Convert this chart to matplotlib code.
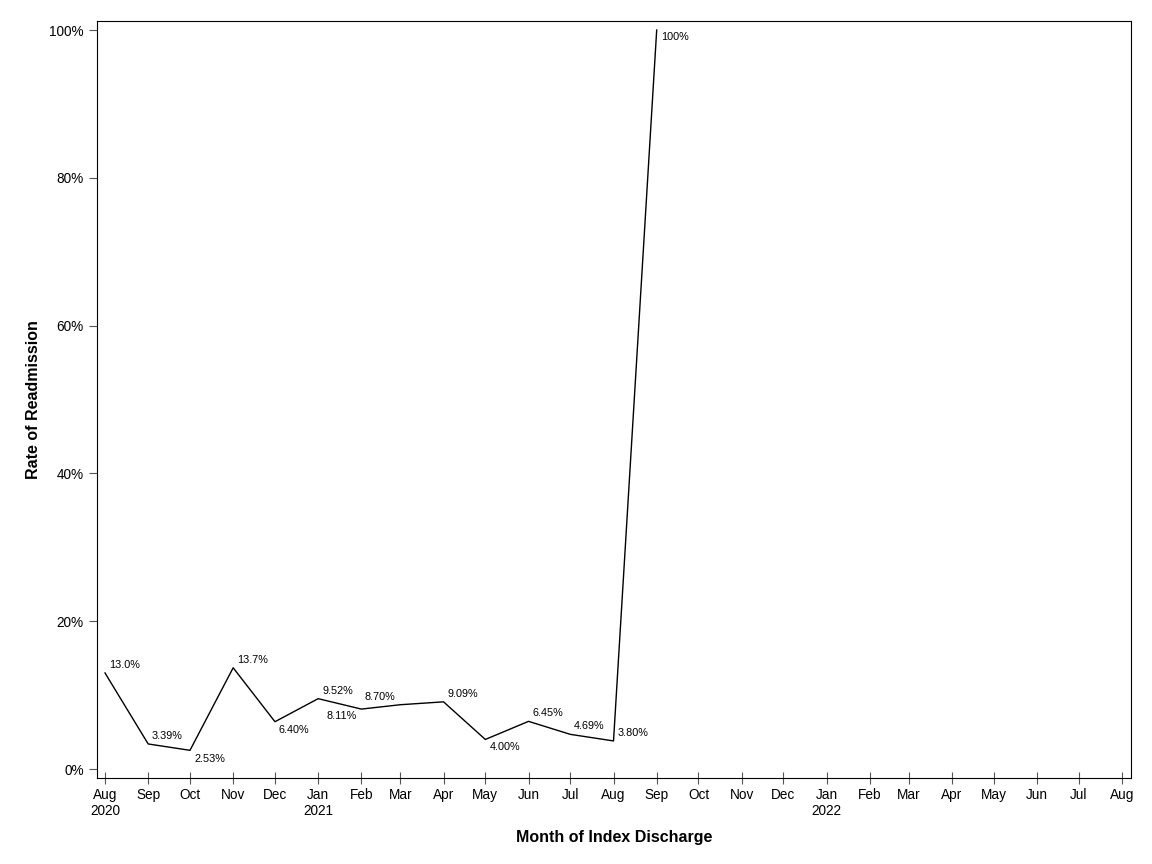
import datetime as dt
import matplotlib
matplotlib.use('Agg')
import matplotlib.pyplot as plt
import matplotlib.dates as mdates
from matplotlib.ticker import PercentFormatter

plt.rcParams['font.family'] = ['Liberation Sans', 'DejaVu Sans']

# monthly readmission rates (%), Aug 2020 - Sep 2021
months = ['2020-08', '2020-09', '2020-10', '2020-11', '2020-12', '2021-01', '2021-02',
          '2021-03', '2021-04', '2021-05', '2021-06', '2021-07', '2021-08', '2021-09']
rates = [13.0, 3.39, 2.53, 13.7, 6.40, 9.52, 8.11, 8.70, 9.09, 4.00, 6.45, 4.69, 3.80, 100.0]
labels = ['13.0%', '3.39%', '2.53%', '13.7%', '6.40%', '9.52%', '8.11%',
          '8.70%', '9.09%', '4.00%', '6.45%', '4.69%', '3.80%', '100%']
# label placement: (dx px, dy px, ha)
offsets = [(4, 8, 'left'), (3, 8, 'left'), (5, -9, 'left'), (4, 8, 'left'),
           (4, -8, 'left'), (4, 8, 'left'), (-5, -7, 'right'), (-5, 8, 'right'),
           (4, 8, 'left'), (4, -8, 'left'), (4, 8, 'left'), (3, 8, 'left'),
           (4, 8, 'left'), (4, -7, 'left')]

dates = [dt.datetime.strptime(m, '%Y-%m') for m in months]

fig = plt.figure(figsize=(11.52, 8.64), dpi=100)
ax = fig.add_axes([0.0842, 0.0995, 0.8976, 0.8762])

ax.plot(dates, rates, color='black', linewidth=1)

for d, r, lab, (dx, dy, ha) in zip(dates, rates, labels, offsets):
    ax.annotate(lab, xy=(d, r), xytext=(dx * 0.72, dy * 0.72), textcoords='offset points',
                ha=ha, va='center', fontsize=7.8)

# x axis: monthly ticks Aug 2020 - Aug 2022
tick_dates = []
y, m = 2020, 8
while (y, m) <= (2022, 8):
    tick_dates.append(dt.datetime(y, m, 1))
    m += 1
    if m > 12:
        m, y = 1, y + 1
tick_labels = []
for i, d in enumerate(tick_dates):
    lab = d.strftime('%b')
    if i == 0 or d.month == 1:
        lab += '\n' + str(d.year)
    tick_labels.append(lab)
ax.set_xticks(tick_dates)
ax.set_xticklabels(tick_labels, linespacing=1.2)
ax.set_xlim(mdates.date2num(dt.datetime(2020, 8, 1)) - 5.74,
            mdates.date2num(dt.datetime(2022, 8, 1)) + 6.46)

ax.set_ylim(-1.22, 101.22)
ax.set_yticks([0, 20, 40, 60, 80, 100])
ax.yaxis.set_major_formatter(PercentFormatter(decimals=0))

ax.tick_params(axis='x', direction='inout', length=8, color='#555555', labelsize=9.8, pad=3)
ax.tick_params(axis='y', direction='out', length=6, color='#555555', labelsize=9.8)

ax.set_xlabel('Month of Index Discharge', fontsize=11.5, fontweight='bold', labelpad=9)
ax.set_ylabel('Rate of Readmission', fontsize=11.5, fontweight='bold', labelpad=6)

fig.savefig('out.png', dpi=100)
